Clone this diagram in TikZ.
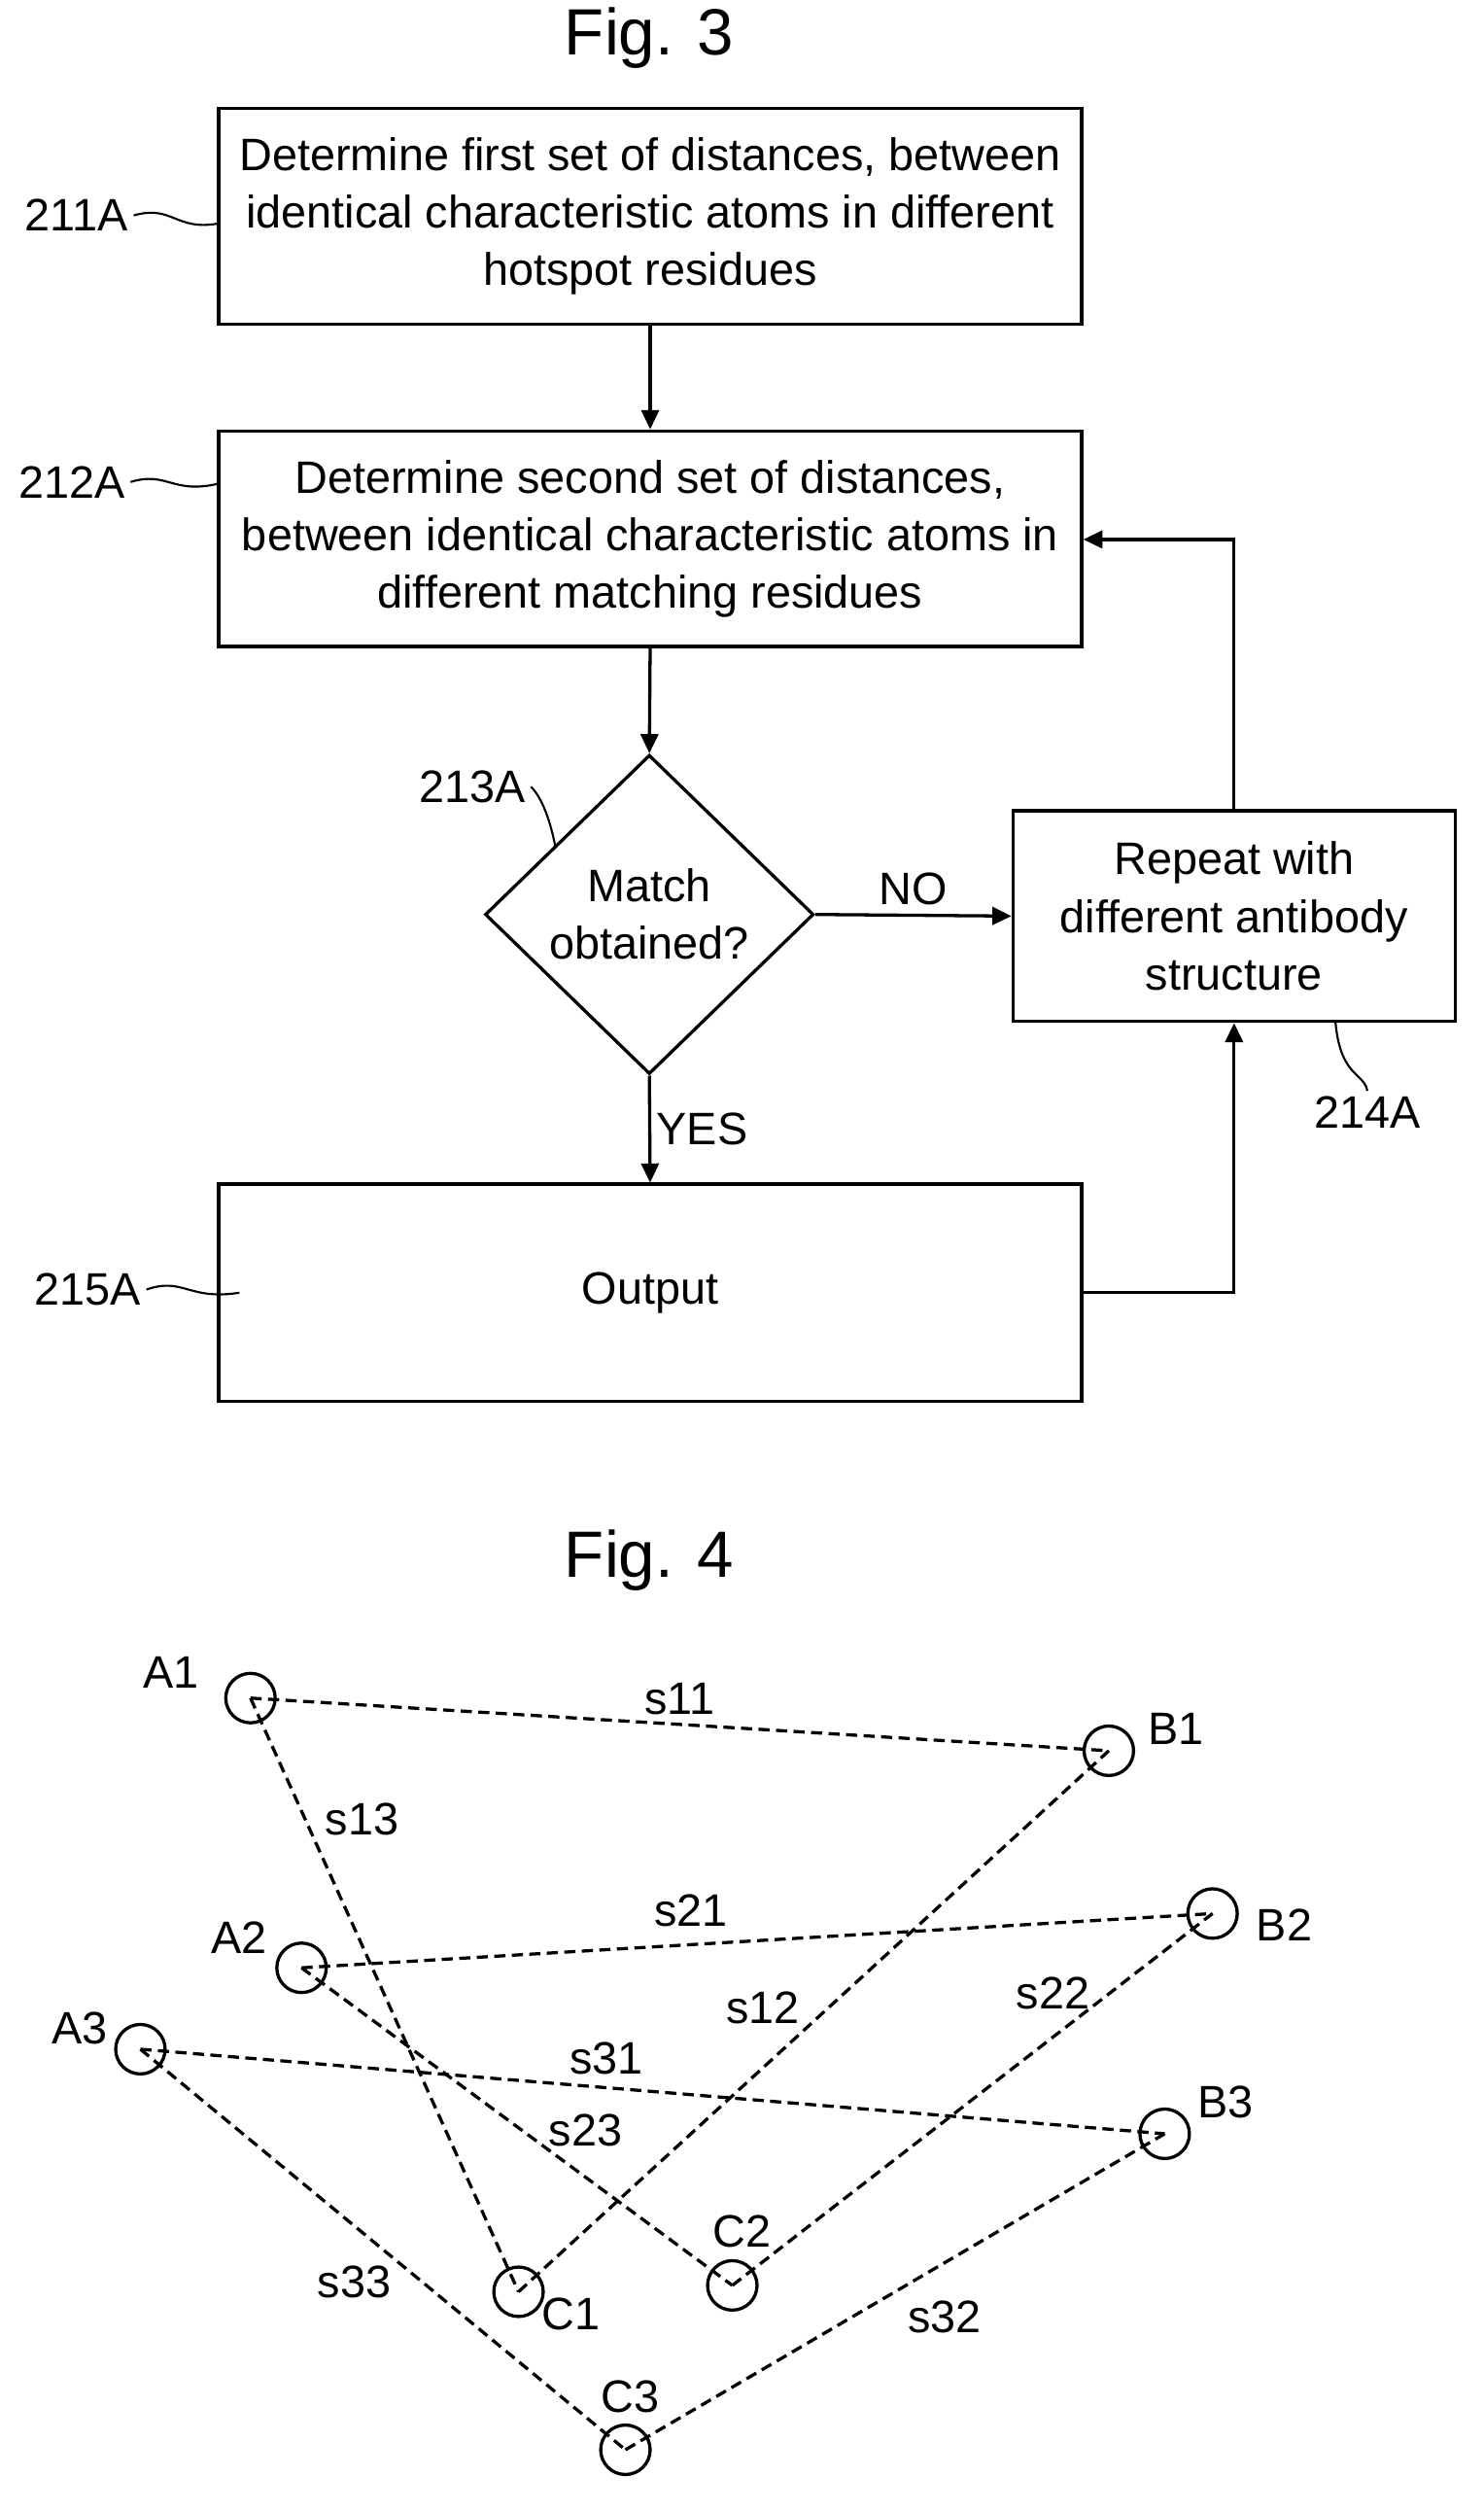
\documentclass[tikz,border=0pt]{standalone}
\usepackage{fontspec}
\setmainfont{Liberation Sans}
\usetikzlibrary{shapes.geometric,arrows.meta}
\tikzset{
  box/.style={draw,line width=2pt,align=center,font=\fontsize{28.5}{36}\selectfont},
  lbl/.style={font=\fontsize{28.5}{32}\selectfont},
  flow/.style={-{Triangle[length=12pt,width=11pt]},line width=2pt},
  lead/.style={line width=1.3pt},
  atom/.style={draw,circle,line width=2pt,minimum size=31pt,inner sep=0pt},
  link/.style={dashed,dash pattern=on 7pt off 4pt,line width=2pt}
}
\begin{document}
\begin{tikzpicture}[x=1pt,y=-1pt]
\useasboundingbox (0,0) rectangle (930,1574);
\node[font=\fontsize{41}{44}\selectfont] (fig3) at (407,24) {Fig. 3};
\node[box,minimum width=541pt,minimum height=135pt] (det1) at (407.5,135.5) {Determine first set of distances, between\\identical characteristic atoms in different\\hotspot residues};
\node[box,minimum width=541pt,minimum height=135pt] (det2) at (407.5,337.5) {Determine second set of distances,\\between identical characteristic atoms in\\different matching residues};
\node[draw,diamond,line width=2pt,minimum width=206pt,minimum height=200pt,inner sep=0pt,align=center,font=\fontsize{28.5}{36}\selectfont,aspect=1.03] (match) at (407,573) {Match\\obtained?};
\node[box,minimum width=277pt,minimum height=132pt] (rep) at (773.5,574) {Repeat with\\different antibody\\structure};
\node[box,minimum width=541pt,minimum height=136pt] (out) at (407.5,810) {Output};
\draw[flow] (det1) -- (det2);
\draw[flow] (det2.south) -- (match.north);
\draw[flow] (match.east) -- node[lbl,above=2pt] {NO} (rep.west);
\draw[flow] (match.south) -- node[lbl,right=0pt] {YES} (out.north);
\draw[flow] (rep.north) |- (det2.east |- 0,338);
\draw[flow] (out.east) -| (rep.south);
% reference numerals
\node[lbl] (n211) at (48,135) {211A};
\draw[lead] (n211.east) .. controls (108,128) and (110,145) .. (137,140);
\node[lbl] (n212) at (45,302) {212A};
\draw[lead] (n212.east) .. controls (105,295) and (108,310) .. (137,303);
\node[lbl] (n213) at (296,493) {213A};
\draw[lead] (n213.east) .. controls (340,500) and (345,515) .. (348,530);
\node[lbl] (n214) at (857,697) {214A};
\draw[lead] (n214.north) .. controls (855,672) and (840,675) .. (837,640);
\node[lbl] (n215) at (55,808) {215A};
\draw[lead] (n215.east) .. controls (115,800) and (118,815) .. (150,810);
\node[font=\fontsize{41}{44}\selectfont] (fig4) at (407,978) {Fig. 4};
\foreach \name/\px/\py/\lx/\ly in {A1/157/1064/107/1048, B1/695/1097/737/1083, A2/189/1233/150/1214,
  B2/760/1199/805/1206, A3/88/1284/50/1271, B3/730/1337/768/1317,
  C1/325/1436/358/1450, C2/459/1432/465/1398, C3/392/1535/395/1502}{
  \node[atom] (\name) at (\px,\py) {};
  \node[lbl] (l\name) at (\lx,\ly) {\name};
}
\draw[link] (A1.center) -- node[lbl,pos=0.5,above=2pt] {s11} (B1.center);
\draw[link] (A1.center) -- (C1.center);
\draw[link] (A2.center) -- (B2.center);
\draw[link] (A2.center) -- (C2.center);
\draw[link] (A3.center) -- (B3.center);
\draw[link] (A3.center) -- (C3.center);
\draw[link] (C1.center) -- (B1.center);
\draw[link] (C2.center) -- (B2.center);
\draw[link] (C3.center) -- (B3.center);
\foreach \t/\x/\y in {s13/227/1140, s21/433/1197, s12/478/1258, s22/660/1249, s31/380/1290,
  s23/367/1335, s33/222/1430, s32/592/1452}{
  \node[lbl] (\t) at (\x,\y) {\t};
}
\end{tikzpicture}
\end{document}
